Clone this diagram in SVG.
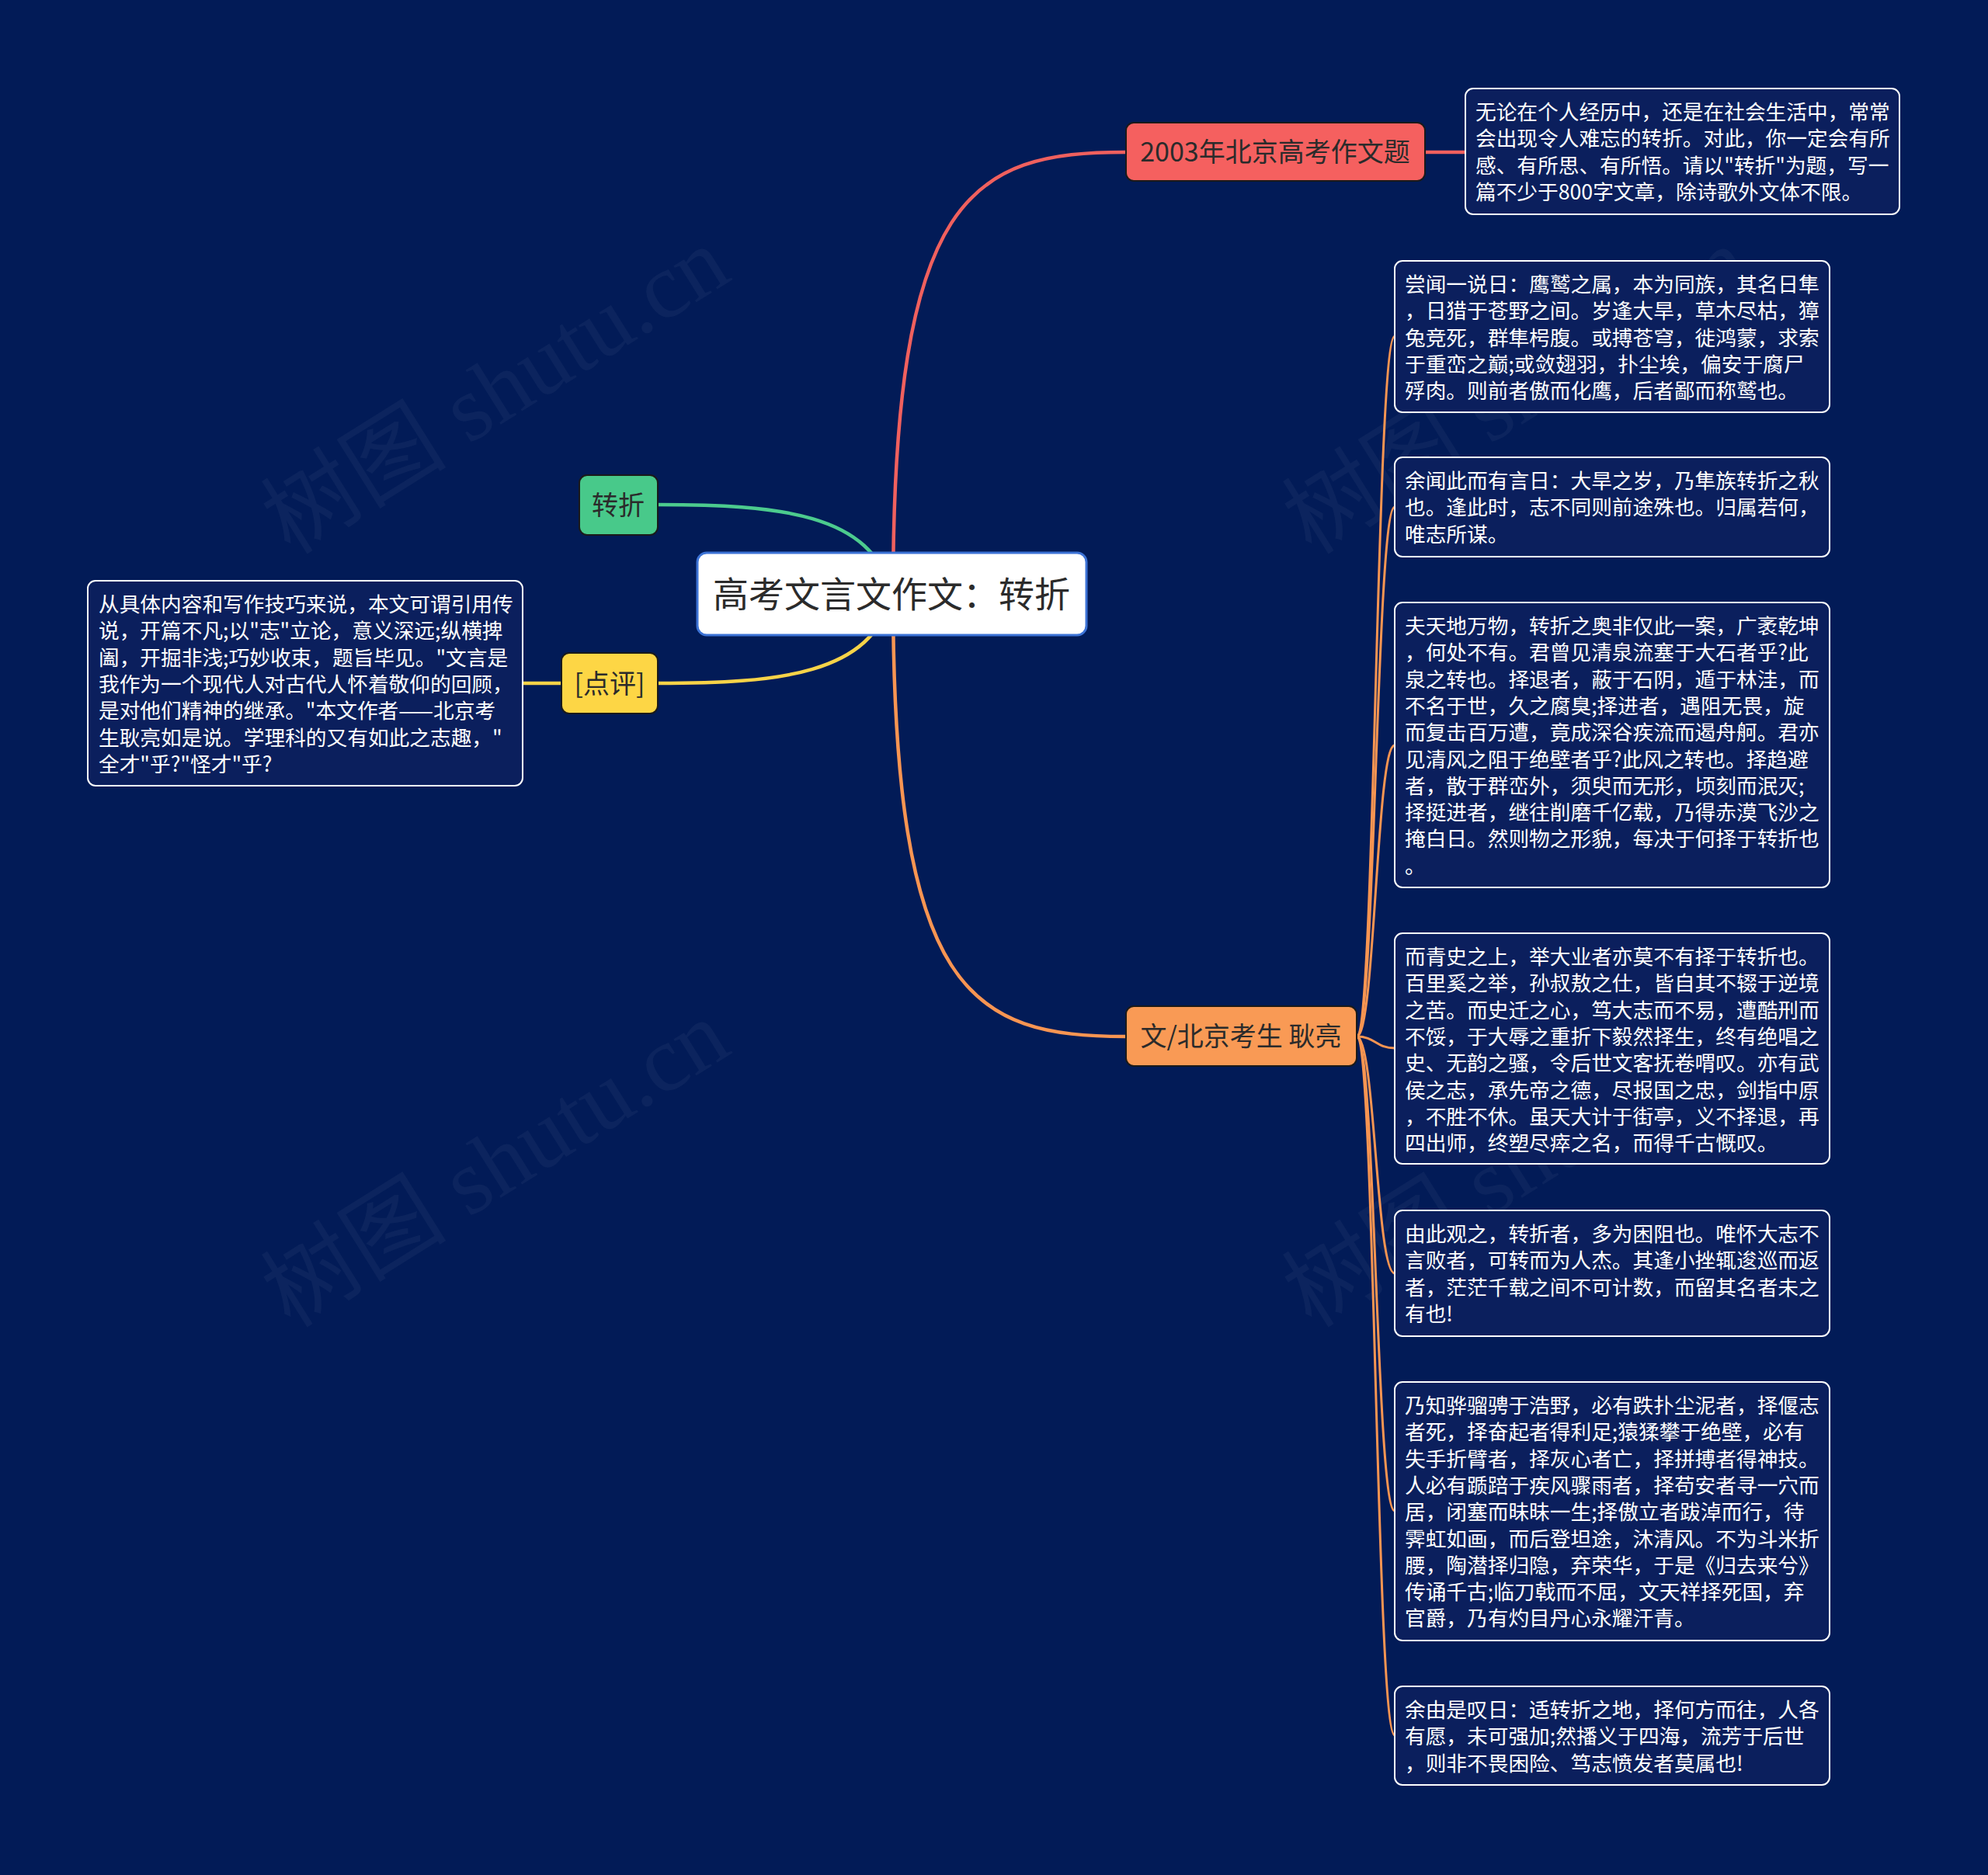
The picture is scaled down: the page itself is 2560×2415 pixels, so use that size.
<svg xmlns="http://www.w3.org/2000/svg" width="2560" height="2415" viewBox="0 0 2560 2415">
<style>
.bg{fill:#021b57}
.wm{font-family:"Liberation Serif","Noto Sans CJK SC",serif;font-size:120px;fill:#ffffff;fill-opacity:0.045}
.box{fill:#0b1f5d;stroke:#ffffff;stroke-width:2}
.bt{font-family:"Noto Sans CJK SC","Noto Sans",sans-serif;font-size:26.7px;fill:#ffffff}
.nt{font-family:"Noto Sans CJK SC","Noto Sans",sans-serif;font-size:34px;fill:#2b2b2b;text-anchor:middle}
.node{stroke:#1a1a1a;stroke-width:2}
.main{fill:none;stroke-width:4.5;stroke-linecap:round}
.sub{fill:none;stroke:#f89552;stroke-width:3;stroke-linecap:round}
</style>
<rect class="bg" x="0" y="0" width="2560" height="2415"/>
<g id="watermark">
<text class="wm" transform="translate(645,514) rotate(-32)" text-anchor="middle" dominant-baseline="middle">树图 shutu.cn</text>
<text class="wm" transform="translate(645,1510) rotate(-32)" text-anchor="middle" dominant-baseline="middle">树图 shutu.cn</text>
<text class="wm" transform="translate(1960,514) rotate(-32)" text-anchor="middle" dominant-baseline="middle">树图 shutu.cn</text>
<text class="wm" transform="translate(1960,1510) rotate(-32)" text-anchor="middle" dominant-baseline="middle">树图 shutu.cn</text>
</g>
<g id="connectors">
<path class="main" stroke="#f0605e" d="M1150,765 C1150,250 1250,196 1450,196"/>
<path class="main" stroke="#f89552" d="M1150,765 C1150,1280 1250,1335 1450,1335"/>
<path class="main" stroke="#4ccb8e" d="M1148,765 C1125,660 1000,650 847,650"/>
<path class="main" stroke="#f7d348" d="M1148,765 C1125,870 1000,880 847,880"/>
<path class="main" stroke="#f7d348" d="M723,880 L673,880"/>
<path class="main" stroke="#f0605e" d="M1835,196 L1887,196"/>
<path class="sub" d="M1747,1335 C1771,1335 1772,433 1796,433"/>
<path class="sub" d="M1747,1335 C1771,1335 1772,653 1796,653"/>
<path class="sub" d="M1747,1335 C1771,1335 1772,960 1796,960"/>
<path class="sub" d="M1747,1335 C1771,1335 1772,1350 1796,1350"/>
<path class="sub" d="M1747,1335 C1771,1335 1772,1640 1796,1640"/>
<path class="sub" d="M1747,1335 C1771,1335 1772,1946 1796,1946"/>
<path class="sub" d="M1747,1335 C1771,1335 1772,2235 1796,2235"/>
</g>
<g id="root">
<rect x="898" y="712" width="501" height="106" rx="12" fill="#ffffff" stroke="#3c73d6" stroke-width="3"/>
<text x="1148" y="782" font-family="'Noto Sans CJK SC','Noto Sans',sans-serif" font-size="46" fill="#2b2b2b" text-anchor="middle">高考文言文作文：转折</text>
</g>
<g id="n-2003">
<rect class="node" x="1450" y="158" width="385" height="75" rx="10" fill="#f5605f"/>
<text class="nt" x="1642" y="208">2003年北京高考作文题</text>
</g>
<g id="n-zhuanzhe">
<rect class="node" x="746" y="612" width="101" height="77" rx="10" fill="#48c98a"/>
<text class="nt" x="796" y="663">转折</text>
</g>
<g id="n-dianping">
<rect class="node" x="723" y="841" width="124" height="78" rx="10" fill="#fdd645"/>
<text class="nt" x="785" y="893">[点评]</text>
</g>
<g id="n-author">
<rect class="node" x="1450" y="1296" width="297" height="77" rx="10" fill="#f99a55"/>
<text class="nt" x="1598" y="1347">文/北京考生 耿亮</text>
</g>
<g id="t-topic">
<rect class="box" x="1887" y="114" width="559" height="162" rx="10"/>
<text class="bt" x="1900" y="154">无论在个人经历中，还是在社会生活中，常常</text>
<text class="bt" x="1900" y="188.3">会出现令人难忘的转折。对此，你一定会有所</text>
<text class="bt" x="1900" y="222.6">感、有所思、有所悟。请以"转折"为题，写一</text>
<text class="bt" x="1900" y="256.9">篇不少于800字文章，除诗歌外文体不限。</text>
</g>
<g id="t-review">
<rect class="box" x="113" y="748" width="560" height="264" rx="10"/>
<text class="bt" x="127" y="788">从具体内容和写作技巧来说，本文可谓引用传</text>
<text class="bt" x="127" y="822.3">说，开篇不凡;以"志"立论，意义深远;纵横捭</text>
<text class="bt" x="127" y="856.6">阖，开掘非浅;巧妙收束，题旨毕见。"文言是</text>
<text class="bt" x="127" y="890.9">我作为一个现代人对古代人怀着敬仰的回顾，</text>
<text class="bt" x="127" y="925.2">是对他们精神的继承。"本文作者——北京考</text>
<text class="bt" x="127" y="959.5">生耿亮如是说。学理科的又有如此之志趣，"</text>
<text class="bt" x="127" y="993.8">全才"乎?"怪才"乎?</text>
</g>
<g id="t-p1">
<rect class="box" x="1796" y="336" width="560" height="195" rx="10"/>
<text class="bt" x="1809" y="376">尝闻一说日：鹰鹫之属，本为同族，其名日隼</text>
<text class="bt" x="1809" y="410.3">，日猎于苍野之间。岁逢大旱，草木尽枯，獐</text>
<text class="bt" x="1809" y="444.6">兔竞死，群隼枵腹。或搏苍穹，徙鸿蒙，求索</text>
<text class="bt" x="1809" y="478.9">于重峦之巅;或敛翅羽，扑尘埃，偏安于腐尸</text>
<text class="bt" x="1809" y="513.2">殍肉。则前者傲而化鹰，后者鄙而称鹫也。</text>
</g>
<g id="t-p2">
<rect class="box" x="1796" y="589" width="560" height="128" rx="10"/>
<text class="bt" x="1809" y="629">余闻此而有言日：大旱之岁，乃隼族转折之秋</text>
<text class="bt" x="1809" y="663.3">也。逢此时，志不同则前途殊也。归属若何，</text>
<text class="bt" x="1809" y="697.6">唯志所谋。</text>
</g>
<g id="t-p3">
<rect class="box" x="1796" y="776" width="560" height="367" rx="10"/>
<text class="bt" x="1809" y="816">夫天地万物，转折之奥非仅此一案，广袤乾坤</text>
<text class="bt" x="1809" y="850.3">，何处不有。君曾见清泉流塞于大石者乎?此</text>
<text class="bt" x="1809" y="884.6">泉之转也。择退者，蔽于石阴，遁于林洼，而</text>
<text class="bt" x="1809" y="918.9">不名于世，久之腐臭;择进者，遇阻无畏，旋</text>
<text class="bt" x="1809" y="953.2">而复击百万遭，竟成深谷疾流而遏舟舸。君亦</text>
<text class="bt" x="1809" y="987.5">见清风之阻于绝壁者乎?此风之转也。择趋避</text>
<text class="bt" x="1809" y="1021.8">者，散于群峦外，须臾而无形，顷刻而泯灭;</text>
<text class="bt" x="1809" y="1056.1">择挺进者，继往削磨千亿载，乃得赤漠飞沙之</text>
<text class="bt" x="1809" y="1090.4">掩白日。然则物之形貌，每决于何择于转折也</text>
<text class="bt" x="1809" y="1124.7">。</text>
</g>
<g id="t-p4">
<rect class="box" x="1796" y="1202" width="560" height="297" rx="10"/>
<text class="bt" x="1809" y="1242">而青史之上，举大业者亦莫不有择于转折也。</text>
<text class="bt" x="1809" y="1276.3">百里奚之举，孙叔敖之仕，皆自其不辍于逆境</text>
<text class="bt" x="1809" y="1310.6">之苦。而史迁之心，笃大志而不易，遭酷刑而</text>
<text class="bt" x="1809" y="1344.9">不馁，于大辱之重折下毅然择生，终有绝唱之</text>
<text class="bt" x="1809" y="1379.2">史、无韵之骚，令后世文客抚卷喟叹。亦有武</text>
<text class="bt" x="1809" y="1413.5">侯之志，承先帝之德，尽报国之忠，剑指中原</text>
<text class="bt" x="1809" y="1447.8">，不胜不休。虽天大计于街亭，义不择退，再</text>
<text class="bt" x="1809" y="1482.1">四出师，终塑尽瘁之名，而得千古慨叹。</text>
</g>
<g id="t-p5">
<rect class="box" x="1796" y="1559" width="560" height="162" rx="10"/>
<text class="bt" x="1809" y="1599">由此观之，转折者，多为困阻也。唯怀大志不</text>
<text class="bt" x="1809" y="1633.3">言败者，可转而为人杰。其逢小挫辄逡巡而返</text>
<text class="bt" x="1809" y="1667.6">者，茫茫千载之间不可计数，而留其名者未之</text>
<text class="bt" x="1809" y="1701.9">有也!</text>
</g>
<g id="t-p6">
<rect class="box" x="1796" y="1780" width="560" height="333" rx="10"/>
<text class="bt" x="1809" y="1820">乃知骅骝骋于浩野，必有跌扑尘泥者，择偃志</text>
<text class="bt" x="1809" y="1854.3">者死，择奋起者得利足;猿猱攀于绝壁，必有</text>
<text class="bt" x="1809" y="1888.6">失手折臂者，择灰心者亡，择拼搏者得神技。</text>
<text class="bt" x="1809" y="1922.9">人必有踬踣于疾风骤雨者，择苟安者寻一穴而</text>
<text class="bt" x="1809" y="1957.2">居，闭塞而昧昧一生;择傲立者跋淖而行，待</text>
<text class="bt" x="1809" y="1991.5">霁虹如画，而后登坦途，沐清风。不为斗米折</text>
<text class="bt" x="1809" y="2025.8">腰，陶潜择归隐，弃荣华，于是《归去来兮》</text>
<text class="bt" x="1809" y="2060.1">传诵千古;临刀戟而不屈，文天祥择死国，弃</text>
<text class="bt" x="1809" y="2094.4">官爵，乃有灼目丹心永耀汗青。</text>
</g>
<g id="t-p7">
<rect class="box" x="1796" y="2172" width="560" height="127" rx="10"/>
<text class="bt" x="1809" y="2212">余由是叹日：适转折之地，择何方而往，人各</text>
<text class="bt" x="1809" y="2246.3">有愿，未可强加;然播义于四海，流芳于后世</text>
<text class="bt" x="1809" y="2280.6">，则非不畏困险、笃志愤发者莫属也!</text>
</g>
</svg>
